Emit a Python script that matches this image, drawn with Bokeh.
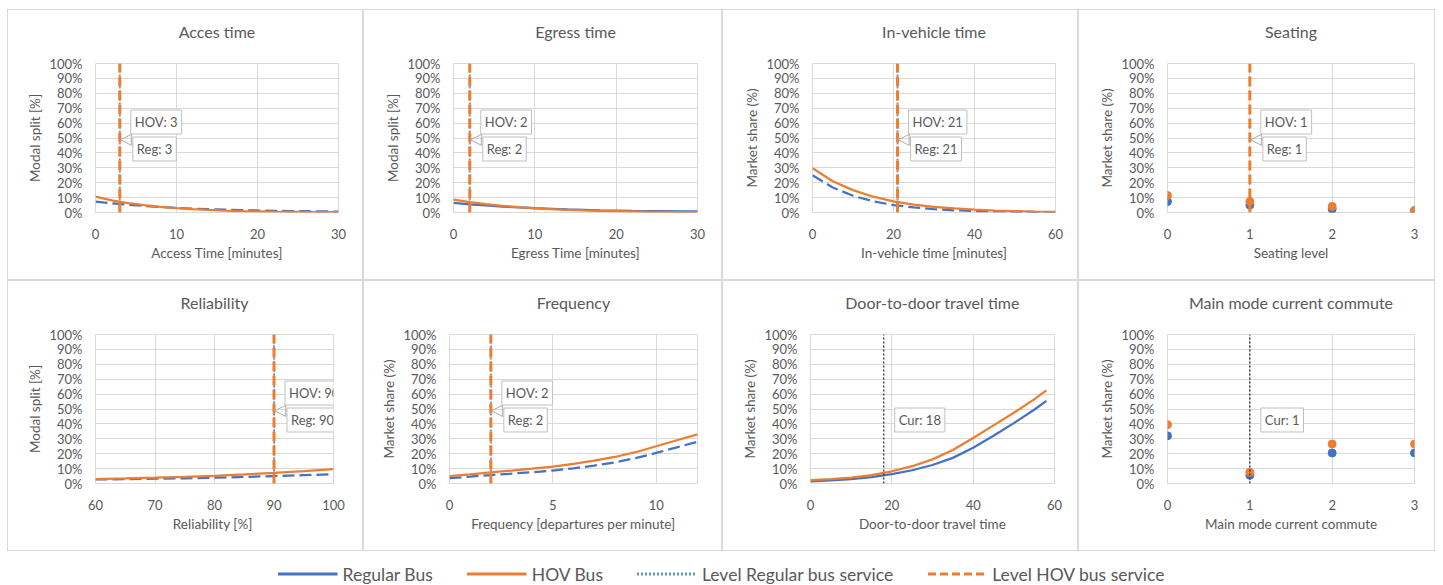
from bokeh.plotting import figure
from bokeh.models import (FixedTicker, PrintfTickFormatter, Range1d,
                          Label, Legend, LegendItem, Title)
from bokeh.layouts import column, row
from bokeh.embed import file_html
from bokeh.resources import INLINE

# ---------------- data ----------------
y_ticks = [0, 10, 20, 30, 40, 50, 60, 70, 80, 90, 100]

access_x = [0, 2, 4, 6, 8, 10, 12, 14, 16, 18, 20, 22, 24, 26, 28, 30]
access_reg = [7.3, 6.2, 5.2, 4.4, 3.7, 3.1, 2.6, 2.2, 1.9, 1.6, 1.35, 1.15, 1.0, 0.85, 0.72, 0.6]
access_hov = [10.7, 8.2, 6.3, 4.9, 3.8, 2.9, 2.2, 1.7, 1.3, 1.0, 0.8, 0.6, 0.45, 0.35, 0.27, 0.2]
access_ticks = [0, 10, 20, 30]
access_level = [3, 3]  # regular, HOV

egress_x = [0, 2, 4, 6, 8, 10, 12, 14, 16, 18, 20, 22, 24, 26, 28, 30]
egress_reg = [6.4, 5.5, 4.7, 4.0, 3.4, 2.9, 2.5, 2.1, 1.8, 1.5, 1.3, 1.1, 1.0, 0.9, 0.8, 0.7]
egress_hov = [8.7, 7.0, 5.6, 4.5, 3.6, 2.8, 2.2, 1.8, 1.4, 1.1, 0.9, 0.7, 0.5, 0.4, 0.3, 0.2]
egress_ticks = [0, 10, 20, 30]
egress_level = [2, 2]

ivt_x = [0, 5, 10, 15, 20, 25, 30, 35, 40, 45, 50, 55, 60]
ivt_reg = [25.0, 16.8, 11.2, 7.5, 5.0, 3.4, 2.3, 1.5, 1.0, 0.7, 0.45, 0.3, 0.2]
ivt_hov = [29.7, 21.0, 15.0, 10.6, 7.5, 5.3, 3.8, 2.7, 1.9, 1.3, 0.9, 0.65, 0.45]
ivt_ticks = [0, 20, 40, 60]
ivt_level = [21, 21]

seat_x = [0, 1, 2, 3]
seat_reg = [7.3, 5.0, 2.3, 1.2]
seat_hov = [11.4, 7.3, 4.1, 1.4]
seat_ticks = [0, 1, 2, 3]
seat_level = [1, 1]

rel_x = [60, 65, 70, 75, 80, 85, 90, 95, 100]
rel_reg = [2.7, 2.9, 3.2, 3.5, 3.9, 4.4, 5.0, 5.6, 6.2]
rel_hov = [3.0, 3.4, 3.9, 4.5, 5.2, 6.1, 7.1, 8.3, 9.7]
rel_ticks = [60, 70, 80, 90, 100]
rel_level = [90, 90]

freq_x = [0, 1, 2, 3, 4, 5, 6, 7, 8, 9, 10, 11, 12]
freq_reg = [3.6, 4.6, 5.7, 6.6, 7.6, 8.7, 10.2, 12.0, 14.2, 17.0, 20.5, 24.3, 28.0]
freq_hov = [5.0, 6.2, 7.5, 8.7, 10.0, 11.4, 13.2, 15.3, 17.8, 21.0, 25.0, 29.0, 33.0]
freq_ticks = [0, 5, 10]
freq_level = [2, 2]

d2d_x = [0, 5, 10, 15, 20, 25, 30, 35, 40, 45, 50, 55, 58]
d2d_reg = [1.5, 2.1, 3.0, 4.3, 6.3, 8.9, 12.4, 17.2, 24.0, 32.0, 40.5, 49.5, 55.5]
d2d_hov = [2.3, 3.0, 4.0, 5.6, 8.2, 11.6, 16.2, 22.5, 30.5, 39.0, 47.5, 56.5, 62.5]
d2d_ticks = [0, 20, 40, 60]
d2d_current = 18

main_x = [0, 1, 2, 3]
main_reg = [32.0, 5.5, 20.5, 20.5]
main_hov = [39.5, 7.5, 26.5, 26.5]
main_ticks = [0, 1, 2, 3]
main_current = 1

legend_labels = ["Regular Bus", "HOV Bus", "Level Regular bus service", "Level HOV bus service"]

# ---------------- style ----------------
BLUE = "#4472C4"
ORANGE = "#ED7D31"
LBLUE = "#5B9BD5"
GRID = "#D9D9D9"
TXT = "#595959"
FONT = "Lato"
H = 271
WIDTHS = [356, 359, 356, 357]


def callout(p, x, y, text, yoff, baseline, xoff=11):
    p.add_layout(Label(x=x, y=y, x_offset=xoff, y_offset=yoff, text=text,
                       text_font=FONT, text_font_size="13px", text_color=TXT,
                       text_align="left", text_baseline=baseline,
                       background_fill_color="white", border_line_color="#BFBFBF",
                       border_line_width=1, padding=4))


def panel(col, title, xlabel, ylabel, xr, xticks, x, reg, hov, reg_dash="solid",
          kind="line", level=None, level_reg=True, current=None, mleft=87, mright=26):
    p = figure(width=WIDTHS[col], height=H, x_range=Range1d(*xr), y_range=Range1d(0, 100),
               output_backend="svg", toolbar_location=None, title=title,
               min_border_left=mleft, min_border_right=mright, min_border_top=53,
               min_border_bottom=69)
    p.styles = {"border": "1px solid #D9D9D9"}
    p.title.align = "center"
    p.title.text_font = FONT
    p.title.text_font_size = "16px"
    p.title.text_font_style = "normal"
    p.title.text_color = TXT
    p.title.standoff = 10
    # invisible spacer between the title and the plot area
    p.add_layout(Title(text=" ", text_font_size="6px", standoff=10,
                       text_color="white"), "above")
    p.outline_line_color = GRID
    p.xgrid.grid_line_color = GRID
    p.ygrid.grid_line_color = GRID
    p.xaxis.ticker = FixedTicker(ticks=xticks)
    p.yaxis.ticker = FixedTicker(ticks=y_ticks)
    p.yaxis.formatter = PrintfTickFormatter(format="%d%%")
    p.xaxis.axis_label = xlabel
    p.yaxis.axis_label = ylabel
    for ax in p.axis:
        ax.axis_line_color = None
        ax.major_tick_line_color = None
        ax.minor_tick_line_color = None
        ax.major_label_text_font = FONT
        ax.major_label_text_font_size = "13px"
        ax.major_label_text_color = TXT
        ax.axis_label_text_font = FONT
        ax.axis_label_text_font_size = "13.5px"
        ax.axis_label_text_font_style = "normal"
        ax.axis_label_text_color = TXT
    p.xaxis.major_label_standoff = 10
    p.xaxis.axis_label_standoff = 3
    p.yaxis.major_label_standoff = 7
    p.yaxis.axis_label_standoff = 3

    if kind == "line":
        p.line(x, reg, color=BLUE, line_width=2.25, line_dash=reg_dash)
        p.line(x, hov, color=ORANGE, line_width=2.25)
    else:
        p.scatter(x, reg, size=8, color=BLUE)
        p.scatter(x, hov, size=8, color=ORANGE)

    if level is not None:
        lr, lh = level
        if level_reg:
            p.segment(x0=[lr], y0=[0], x1=[lr], y1=[100], color=LBLUE,
                      line_width=2, line_dash="2 2")
        p.segment(x0=[lh], y0=[0], x1=[lh], y1=[100], color=ORANGE,
                  line_width=3, line_dash="10 4")
        p.add_layout(Label(x=lh, y=50, x_offset=0, y_offset=0, text="◁",
                           text_font="DejaVu Sans", text_font_size="16px",
                           text_color="#A6A6A6", text_align="left",
                           text_baseline="middle"))
        callout(p, lh, 50, f"HOV: {lh}", 4, "bottom")
        callout(p, lr, 50, f"Reg: {lr}", 1, "top", xoff=13)
    if current is not None:
        p.segment(x0=[current], y0=[0], x1=[current], y1=[100], color="#404040",
                  line_width=1.5, line_dash="2 2")
        callout(p, current, 50, f"Cur: {current}", 1, "top", xoff=11)
    return p


p1 = panel(0, "Acces time", "Access Time [minutes]", "Modal split [%]", (0, 30),
           access_ticks, access_x, access_reg, access_hov, reg_dash="12 5",
           level=access_level)
p2 = panel(1, "Egress time", "Egress Time [minutes]", "Modal split [%]", (0, 30),
           egress_ticks, egress_x, egress_reg, egress_hov, level=egress_level, mleft=89)
p3 = panel(2, "In-vehicle time", "In-vehicle time [minutes]", "Market share (%)", (0, 60),
           ivt_ticks, ivt_x, ivt_reg, ivt_hov, reg_dash="12 5", level=ivt_level, mleft=89,
           mright=24)
p4 = panel(3, "Seating", "Seating level", "Market share (%)", (0, 3), seat_ticks,
           seat_x, seat_reg, seat_hov, kind="scatter", level=seat_level, level_reg=False,
           mleft=88, mright=22)
p5 = panel(0, "Reliability", "Reliability  [%]", "Modal split [%]", (60, 100), rel_ticks,
           rel_x, rel_reg, rel_hov, reg_dash="12 5", level=rel_level, mright=31)
p6 = panel(1, "Frequency", "Frequency [departures per minute]", "Market share (%)", (0, 12),
           freq_ticks, freq_x, freq_reg, freq_hov, reg_dash="12 5", level=freq_level,
           mleft=85)
p7 = panel(2, "Door-to-door travel time", "Door-to-door travel time", "Market share (%)",
           (0, 60), d2d_ticks, d2d_x, d2d_reg, d2d_hov, current=d2d_current, mleft=87,
           mright=25)
p8 = panel(3, "Main mode current commute", "Main mode current commute", "Market share (%)",
           (0, 3), main_ticks, main_x, main_reg, main_hov, kind="scatter",
           current=main_current, mleft=88, mright=22)

# ---------------- legend ----------------
# the sample lines reuse real series but sit outside the visible (negative) y range
lf = figure(width=sum(WIDTHS), height=33, output_backend="svg", toolbar_location=None,
            x_range=Range1d(0, 1), y_range=Range1d(-2, -1), min_border=0,
            min_border_top=12)
lf.axis.visible = False
lf.grid.visible = False
lf.outline_line_color = None
r1 = lf.line(access_x, access_reg, color=BLUE, line_width=3)
r2 = lf.line(access_x, access_hov, color=ORANGE, line_width=3)
r3 = lf.line(egress_x, egress_reg, color=LBLUE, line_width=3, line_dash="2 2")
r4 = lf.line(egress_x, egress_hov, color=ORANGE, line_width=3, line_dash="8 4")
leg = Legend(items=[LegendItem(label=legend_labels[i], renderers=[r])
                    for i, r in enumerate([r1, r2, r3, r4])],
             orientation="horizontal", location="center",
             label_text_font=FONT, label_text_font_size="17.5px", label_text_color=TXT,
             glyph_width=60, label_standoff=5, spacing=34,
             border_line_color=None, background_fill_alpha=0, padding=0, margin=0)
lf.add_layout(leg, "center")

layout = column(row(p1, p2, p3, p4), row(p5, p6, p7, p8), lf, margin=(9, 0, 0, 7))
open("out.html", "w").write(file_html(layout, INLINE))
